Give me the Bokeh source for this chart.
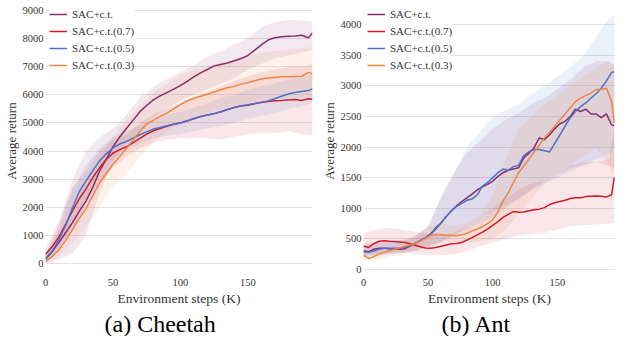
from bokeh.plotting import figure
from bokeh.models import Range1d, FixedTicker, Legend, LegendItem, Title
from bokeh.layouts import row
from bokeh.embed import file_html
from bokeh.resources import INLINE

FONT = "Liberation Serif"
SERIES = ["SAC+c.t.", "SAC+c.t.(0.7)", "SAC+c.t.(0.5)", "SAC+c.t.(0.3)"]
COLORS = ["#8a2b6e", "#d01c2a", "#4a72c8", "#ef8444"]

# ---------------- Cheetah ----------------
cheetah_x = list(range(0, 200, 5)) + [198]
cheetah_ct = [150, 420, 750, 1100, 1450, 1850, 2220, 2700, 3280, 3700, 4150, 4500, 4800, 5100, 5400,
              5620, 5820, 5960, 6080, 6200, 6330, 6480, 6640, 6780, 6900, 7030, 7080, 7130, 7210, 7290,
              7400, 7580, 7780, 7950, 8030, 8070, 8080, 8090, 8120, 8030, 8200]
cheetah_07 = [320, 600, 950, 1400, 1870, 2300, 2650, 3050, 3400, 3700, 3920, 4050, 4150, 4300, 4450,
              4600, 4720, 4800, 4880, 4950, 5000, 5070, 5150, 5230, 5280, 5330, 5400, 5480, 5550, 5600,
              5630, 5680, 5730, 5760, 5790, 5800, 5820, 5830, 5800, 5860, 5840]
cheetah_05 = [170, 450, 850, 1350, 1980, 2550, 2930, 3300, 3640, 3900, 4100, 4250, 4340, 4460, 4580,
              4680, 4780, 4840, 4900, 4950, 5000, 5080, 5160, 5230, 5280, 5330, 5400, 5480, 5550, 5610,
              5650, 5690, 5740, 5780, 5860, 5950, 6030, 6080, 6120, 6150, 6210]
cheetah_03 = [60, 250, 480, 820, 1200, 1600, 1940, 2400, 2860, 3200, 3530, 3800, 4100, 4400, 4700,
              4950, 5100, 5230, 5350, 5500, 5650, 5780, 5880, 5950, 6020, 6100, 6180, 6250, 6300, 6380,
              6430, 6500, 6560, 6600, 6620, 6640, 6640, 6650, 6660, 6800, 6740]

cheetah_band_x = list(range(0, 200, 10)) + [198]
cheetah_ct_lo = [0, 150, 350, 1000, 2500, 3600, 4300, 4700, 5200, 5500, 5800, 6000, 6200, 6400, 6600,
                 6900, 7100, 7300, 7400, 7500, 7600]
cheetah_ct_hi = [300, 1400, 3000, 4000, 4500, 4800, 5300, 5900, 6300, 6550, 6800, 7050, 7350, 7550, 7800,
                 8000, 8400, 8600, 8650, 8650, 8600]
cheetah_07_lo = [150, 500, 1200, 2100, 2800, 3400, 3800, 4100, 4300, 4400, 4450, 4450, 4450, 4400, 4500,
                 4600, 4650, 4650, 4700, 4600, 4550]
cheetah_07_hi = [500, 1500, 2700, 3300, 4000, 4400, 4600, 5000, 5300, 5500, 5700, 5900, 6100, 6300, 6500,
                 6650, 6800, 6900, 7000, 7000, 7100]
cheetah_05_lo = [50, 500, 1400, 2300, 3100, 3700, 4000, 4250, 4450, 4550, 4600, 4700, 4800, 4900, 5000,
                 5150, 5250, 5350, 5500, 5600, 5700]
cheetah_05_hi = [300, 1200, 2600, 3500, 4100, 4500, 4700, 4900, 5100, 5300, 5400, 5550, 5700, 5900, 6000,
                 6200, 6300, 6400, 6550, 6650, 6750]
cheetah_03_lo = [0, 250, 700, 1300, 2000, 2700, 3200, 3800, 4300, 4700, 5000, 5200, 5350, 5500, 5600,
                 5700, 5800, 5850, 5900, 5900, 5900]
cheetah_03_hi = [200, 800, 1700, 2700, 3800, 4500, 5100, 5600, 6100, 6400, 6700, 6900, 7000, 7150, 7250,
                 7400, 7500, 7550, 7600, 7650, 7700]

# ---------------- Ant ----------------
ant_x = list(range(0, 196, 4)) + [194]
ant_ct = [307, 290, 330, 345, 345, 340, 335, 330, 340, 380, 427, 470, 520, 580, 680, 760, 866, 960,
          1040, 1110, 1170, 1230, 1300, 1350, 1390, 1440, 1520, 1580, 1620, 1640, 1660, 1820, 1900,
          1990, 2150, 2120, 2200, 2300, 2380, 2420, 2500, 2620, 2580, 2620, 2540, 2540, 2480, 2540,
          2360, 2350]
ant_07 = [384, 360, 420, 460, 470, 460, 455, 450, 440, 420, 395, 370, 350, 345, 360, 380, 400, 420,
          425, 440, 480, 520, 564, 610, 658, 720, 780, 850, 900, 945, 935, 940, 960, 975, 985, 1010,
          1060, 1090, 1110, 1130, 1160, 1170, 1170, 1190, 1195, 1200, 1195, 1185, 1220, 1500]
ant_05 = [290, 280, 300, 330, 345, 345, 345, 350, 360, 390, 427, 470, 510, 570, 660, 760, 866, 950,
          1030, 1080, 1130, 1150, 1220, 1360, 1420, 1500, 1580, 1640, 1620, 1680, 1700, 1860, 1920,
          1960, 1960, 1940, 1920, 2060, 2200, 2340, 2480, 2580, 2660, 2720, 2800, 2870, 2960, 3080,
          3220, 3230]
ant_03 = [235, 180, 210, 250, 280, 300, 330, 350, 380, 400, 420, 460, 510, 555, 570, 565, 560, 555,
          550, 565, 590, 630, 660, 700, 750, 811, 940, 1120, 1250, 1420, 1580, 1690, 1800, 1920, 2030,
          2150, 2240, 2340, 2440, 2540, 2640, 2740, 2800, 2840, 2880, 2940, 2940, 2960, 2750, 2400]

ant_band_x = list(range(0, 191, 10)) + [194]
ant_ct_lo = [200, 230, 250, 270, 300, 380, 450, 550, 700, 850, 950, 1050, 1150, 1300, 1450, 1550, 1650,
             1700, 1750, 1700, 1650]
ant_ct_hi = [420, 450, 450, 480, 550, 700, 1200, 1600, 1900, 2100, 2300, 2450, 2550, 2700, 2800, 2950,
             3100, 3300, 3400, 3400, 3350]
ant_07_lo = [250, 250, 280, 280, 250, 230, 230, 250, 300, 380, 450, 500, 550, 580, 600, 650, 700, 720,
             730, 750, 760]
ant_07_hi = [600, 650, 680, 650, 620, 580, 550, 600, 700, 850, 1000, 1150, 1300, 1400, 1450, 1550, 1700,
             1750, 1750, 1800, 2300]
ant_05_lo = [220, 230, 250, 280, 320, 380, 450, 550, 650, 750, 850, 1000, 1150, 1300, 1400, 1500, 1600,
             1700, 1800, 1900, 1950]
ant_05_hi = [380, 420, 450, 470, 520, 700, 1150, 1550, 2000, 2250, 2500, 2600, 2700, 2850, 3000, 3150,
             3300, 3500, 3800, 4100, 4150]
ant_03_lo = [150, 150, 200, 250, 300, 350, 450, 450, 450, 450, 500, 650, 900, 1150, 1400, 1550, 1700,
             1850, 2000, 1700, 1500]
ant_03_hi = [300, 300, 350, 450, 550, 700, 750, 700, 750, 900, 1200, 1800, 2300, 2500, 2700, 2850, 3000,
             3150, 3300, 3400, 3300]

x_ticks = [0, 50, 100, 150]
cheetah_y_ticks = [0, 1000, 2000, 3000, 4000, 5000, 6000, 7000, 8000, 9000]
ant_y_ticks = [0, 500, 1000, 1500, 2000, 2500, 3000, 3500, 4000]

FRAME_H = 267


def make_panel(width, border_left, border_right, xr, yr, yticks, xs, lines, band_x, bands,
               caption, cap_offset):
    p = figure(width=width, height=336, output_backend="svg", toolbar_location=None,
               x_range=Range1d(*xr), y_range=Range1d(*yr),
               min_border_left=border_left, min_border_right=border_right,
               min_border_top=6, min_border_bottom=0)
    p.outline_line_color = None
    p.background_fill_color = "white"
    p.xgrid.grid_line_color = None
    p.ygrid.grid_line_color = "#e2e2e2"
    p.ygrid.grid_line_width = 1
    p.xaxis.ticker = FixedTicker(ticks=x_ticks)
    p.yaxis.ticker = FixedTicker(ticks=yticks)
    for ax in (p.xaxis[0], p.yaxis[0]):
        ax.axis_line_color = None
        ax.major_tick_line_color = None
        ax.minor_tick_line_color = None
        ax.major_tick_out = 0
        ax.major_tick_in = 0
        ax.major_label_text_font = FONT
        ax.major_label_text_font_size = "10.5px"
        ax.major_label_text_color = "#333333"
        ax.axis_label_text_font = FONT
        ax.axis_label_text_font_style = "normal"
        ax.axis_label_text_color = "#333333"
    p.xaxis.axis_label = "Environment steps (K)"
    p.yaxis.axis_label = "Average return"
    p.xaxis.axis_label_text_font_size = "13.5px"
    p.yaxis.axis_label_text_font_size = "13px"
    p.xaxis.major_label_standoff = 3
    p.xaxis.axis_label_standoff = 2
    p.yaxis.major_label_standoff = 2
    p.yaxis.axis_label_standoff = 1

    for (lo, hi), c in zip(bands, COLORS):
        p.varea(x=band_x, y1=lo, y2=hi, fill_color=c, fill_alpha=0.11)
    items = []
    for name, ys, c in zip(SERIES, lines, COLORS):
        r = p.line(xs, ys, line_color=c, line_width=1.5)
        items.append(LegendItem(label=name, renderers=[r]))
    leg = Legend(items=items, location=(4, FRAME_H - 65), padding=0, spacing=1, margin=0,
                 glyph_width=18, glyph_height=16, label_height=16, label_standoff=5,
                 label_text_font=FONT, label_text_font_size="11px", label_text_color="#333333",
                 background_fill_color="white", background_fill_alpha=1.0,
                 border_line_color=None)
    p.add_layout(leg)
    cap = Title(text=caption, align="left", offset=cap_offset, text_font=FONT,
                text_font_size="24px", text_font_style="normal", text_color="black", standoff=0)
    p.add_layout(cap, "below")
    return p


p1 = make_panel(318, 43, 6, (0, 198), (-430, 9143), cheetah_y_ticks, cheetah_x,
                [cheetah_ct, cheetah_07, cheetah_05, cheetah_03], cheetah_band_x,
                [(cheetah_ct_lo, cheetah_ct_hi), (cheetah_07_lo, cheetah_07_hi),
                 (cheetah_05_lo, cheetah_05_hi), (cheetah_03_lo, cheetah_03_hi)],
                "(a) Cheetah", 59)
p2 = make_panel(297, 44, 0, (0, 195), (-99, 4296), ant_y_ticks, ant_x,
                [ant_ct, ant_07, ant_05, ant_03], ant_band_x,
                [(ant_ct_lo, ant_ct_hi), (ant_07_lo, ant_07_hi),
                 (ant_05_lo, ant_05_hi), (ant_03_lo, ant_03_hi)],
                "(b) Ant", 78)

layout = row(p1, p2)
open("out.html", "w").write(file_html(layout, INLINE))
